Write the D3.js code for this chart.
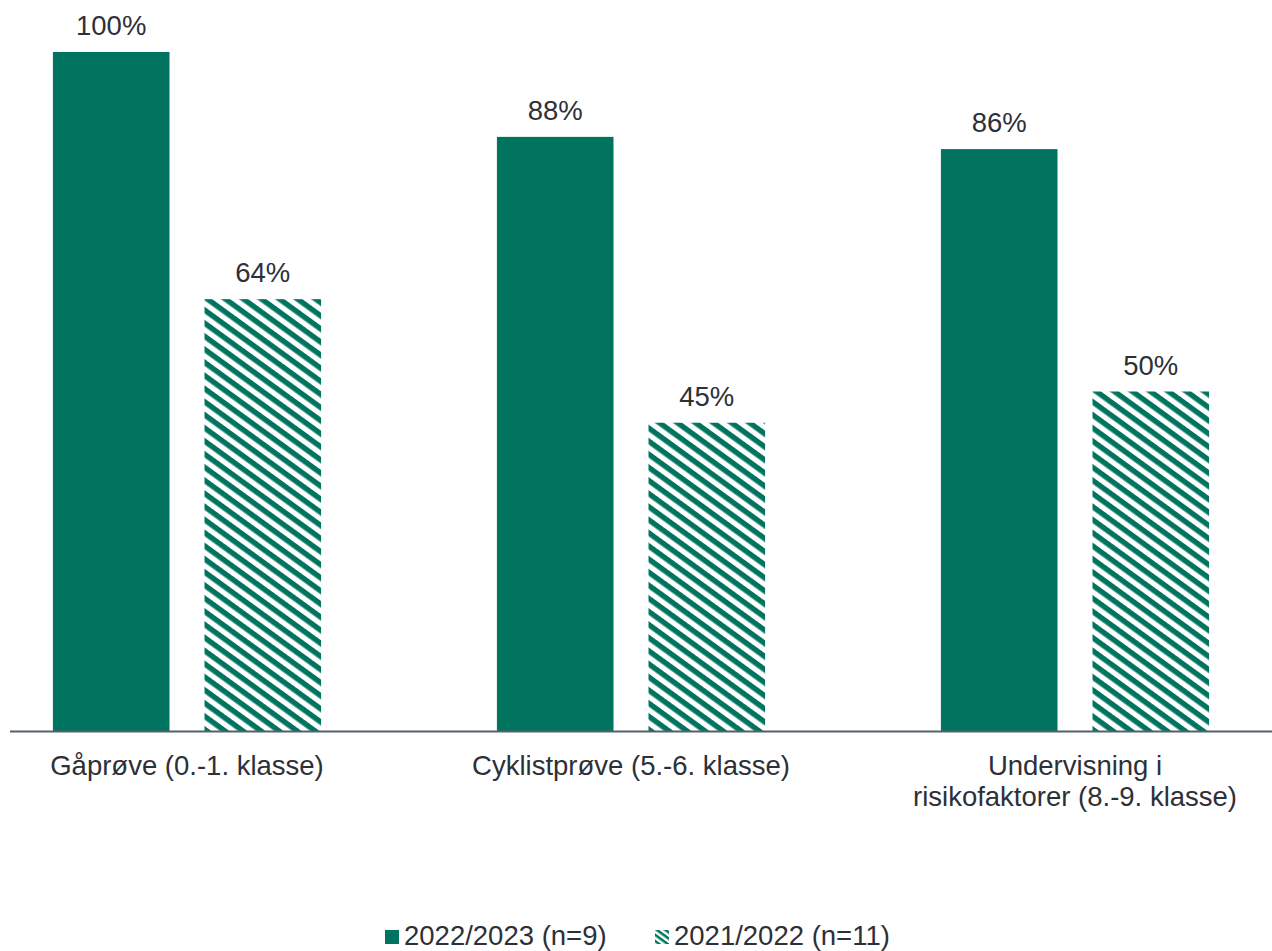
<!DOCTYPE html>
<html>
<head>
<meta charset="utf-8">
<script src="https://cdn.jsdelivr.net/npm/d3@7"></script>
<style>
  html, body { margin: 0; padding: 0; background: #fff; }
  svg { display: block; font-family: "Liberation Sans", Arial, sans-serif; }
</style>
</head>
<body>
<svg id="chart" width="1272" height="951"></svg>
<script>
const categories = ["Gåprøve (0.-1. klasse)", "Cyklistprøve (5.-6. klasse)", "Undervisning i\nrisikofaktorer (8.-9. klasse)"];
const seriesNames = ["2022/2023 (n=9)", "2021/2022 (n=11)"];
const values2022 = [100, 87.5, 85.7];
const values2021 = [63.6, 45.4, 50];

const green = "#00745e";
const textColor = "#2e3038";
const W = 1272, H = 951;
const FS = 27.5;
const svg = d3.select("#chart");

const defs = svg.append("defs");
function hatch(id, period, thick) {
  const p = defs.append("pattern").attr("id", id)
    .attr("patternUnits", "userSpaceOnUse")
    .attr("width", period).attr("height", period)
    .attr("patternTransform", "rotate(36)");
  p.append("rect").attr("width", period).attr("height", period).attr("fill", "#fff");
  p.append("rect").attr("x", 0).attr("y", 0).attr("width", period).attr("height", thick).attr("fill", green);
}
hatch("hatch", 10.6, 5.4);
hatch("hatchSmall", 5, 2.5);

const baseY = 731, topY = 52;
const y = d3.scaleLinear().domain([0, 100]).range([baseY, topY]);
const x0 = d3.scaleBand().domain(categories).range([-35, 1297]).paddingInner(0.396).paddingOuter(0.198);
const x1 = d3.scaleBand().domain(seriesNames).range([0, x0.bandwidth()]).paddingInner(0.231);

const data = categories.map((c, i) => ({
  cat: c,
  bars: [
    { s: seriesNames[0], v: values2022[i], fill: green },
    { s: seriesNames[1], v: values2021[i], fill: "url(#hatch)" }
  ]
}));

const groups = svg.selectAll("g.grp").data(data).join("g")
  .attr("class", "grp")
  .attr("transform", d => `translate(${x0(d.cat)},0)`);

groups.selectAll("rect").data(d => d.bars).join("rect")
  .attr("x", d => x1(d.s))
  .attr("y", d => y(d.v))
  .attr("width", x1.bandwidth())
  .attr("height", d => baseY - y(d.v))
  .attr("fill", d => d.fill);

groups.selectAll("text.val").data(d => d.bars).join("text")
  .attr("class", "val")
  .attr("x", d => x1(d.s) + x1.bandwidth() / 2)
  .attr("y", d => y(d.v) - 17)
  .attr("text-anchor", "middle")
  .attr("font-size", FS)
  .attr("fill", textColor)
  .text(d => Math.round(d.v) + "%");

// axis line
svg.append("line")
  .attr("x1", 10).attr("x2", W)
  .attr("y1", baseY + 0.5).attr("y2", baseY + 0.5)
  .attr("stroke", "#56606a").attr("stroke-width", 2);

// category axis
const axis = svg.append("g").attr("transform", `translate(0,${baseY})`)
  .call(d3.axisBottom(x0).tickSize(0).tickFormat(""));
axis.select(".domain").remove();
axis.selectAll(".tick").each(function(d) {
  const t = d3.select(this).append("text")
    .attr("text-anchor", "middle")
    .attr("font-size", FS)
    .attr("fill", textColor);
  d.split("\n").forEach((line, i) => {
    t.append("tspan").attr("x", 0).attr("y", 44 + i * 31).text(line);
  });
});

// legend
const legend = svg.append("g");
const legendItems = [
  { name: seriesNames[0], fill: green, x: 385 },
  { name: seriesNames[1], fill: "url(#hatchSmall)", x: 655 }
];
legendItems.forEach(it => {
  legend.append("rect").attr("x", it.x).attr("y", 930).attr("width", 14).attr("height", 14).attr("fill", it.fill);
  legend.append("text").attr("x", it.x + 19).attr("y", 945)
    .attr("font-size", FS).attr("fill", textColor).text(it.name);
});
</script>
</body>
</html>
